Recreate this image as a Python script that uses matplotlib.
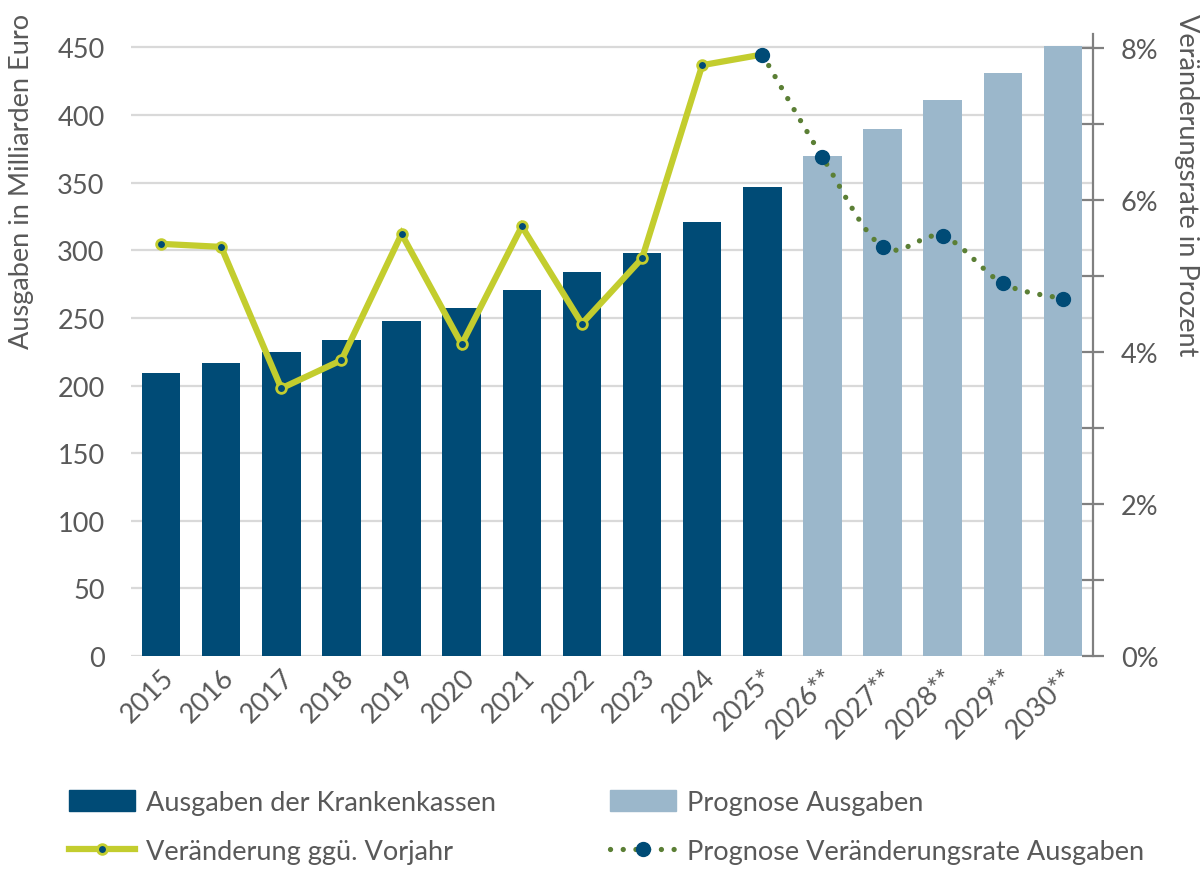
#!/usr/bin/env python3

import numpy as np
import matplotlib
matplotlib.use('Agg')
import matplotlib.pyplot as plt
from matplotlib.lines import Line2D
from matplotlib.patches import Patch, PathPatch
from matplotlib.path import Path
from matplotlib.ticker import FixedLocator, FuncFormatter

plt.rcParams['font.family'] = ['Lato', 'DejaVu Sans']

# Data
years = ['2015', '2016', '2017', '2018', '2019', '2020', '2021', '2022',
         '2023', '2024', '2025*', '2026**', '2027**', '2028**', '2029**', '2030**']
spending_bn = [209, 217, 225, 234, 247.5, 257, 271, 284,
               298, 321, 346.5, 369.5, 390, 411, 431, 451]
n_actual = 11                       # 2015 .. 2025* are actual values
change_pct = [5.42, 5.38, 3.52, 3.89, 5.55, 4.10, 5.65, 4.37,
              5.23, 7.77, 7.91]     # 2015 .. 2025*
forecast_change_pct = [7.91, 6.56, 5.38, 5.52, 4.90, 4.70]   # 2025* .. 2030**

DARK_BLUE  = '#004b76'
LIGHT_BLUE = '#9bb7cb'
LIME       = '#c3cd2e'
OLIVE      = '#5b7f35'
GRID       = '#d9d9d9'
TEXT       = '#595959'
SPINE      = '#808080'
FS = 19.5


def smooth_path(xs, ys):
    # Bezier path through the points (Excel style smoothed line)
    pts = np.column_stack([xs, ys]).astype(float)
    verts = [pts[0]]
    codes = [Path.MOVETO]
    n = len(pts)
    for i in range(n - 1):
        p0 = pts[max(i - 1, 0)]
        p1 = pts[i]
        p2 = pts[i + 1]
        p3 = pts[min(i + 2, n - 1)]
        c1 = p1 + (p2 - p0) / 6.0
        c2 = p2 - (p3 - p1) / 6.0
        verts += [c1, c2, p2]
        codes += [Path.CURVE4] * 3
    return Path(verts, codes)


def main():
    fig = plt.figure(figsize=(12.03, 8.70), dpi=100)
    ax = fig.add_axes([0.1089, 0.2448, 0.7997, 0.7150])
    x = np.arange(len(years))

    colors = [DARK_BLUE] * n_actual + [LIGHT_BLUE] * (len(years) - n_actual)
    ax.bar(x, spending_bn, width=0.64, color=colors, zorder=2)

    ax.set_xlim(-0.5, len(years) - 0.5)
    ax.set_ylim(0, 460)
    ax.set_yticks(np.arange(0, 451, 50))
    ax.yaxis.grid(True, color=GRID, lw=1.6)
    ax.set_axisbelow(True)
    for side in ['left', 'right', 'top', 'bottom']:
        ax.spines[side].set_visible(False)
    ax.tick_params(axis='y', length=0, pad=19, labelsize=FS, labelcolor=TEXT)
    ax.tick_params(axis='x', length=0, pad=6, labelsize=FS, labelcolor=TEXT)
    ax.set_xticks(x)
    ax.set_xticklabels(years, rotation=45, ha='right', rotation_mode='anchor')

    fig.text(22 / 1203, 1 - 14 / 870, 'Ausgaben in Milliarden Euro', fontsize=FS,
             color=TEXT, rotation=90, ha='center', va='top')
    fig.text(1186 / 1203, 1 - 14 / 870, 'Veränderungsrate in Prozent', fontsize=FS,
             color=TEXT, rotation=270, ha='center', va='top')

    ax2 = ax.twinx()
    ax2.set_xlim(-0.5, len(years) - 0.5)
    ax2.set_ylim(0, 8.18)
    for side in ['left', 'top', 'bottom']:
        ax2.spines[side].set_visible(False)
    ax2.spines['right'].set_color(SPINE)
    ax2.spines['right'].set_linewidth(1.6)
    ax2.yaxis.set_major_locator(FixedLocator([0, 2, 4, 6, 8]))
    ax2.yaxis.set_minor_locator(FixedLocator([1, 3, 5, 7]))
    ax2.yaxis.set_major_formatter(FuncFormatter(lambda v, p: f'{v:.0f}%'))
    ax2.tick_params(axis='y', which='both', direction='inout', length=16, width=1.6,
                    color=SPINE, labelsize=FS, labelcolor=TEXT, pad=12)

    # Actual change rate
    ax2.plot(x[:n_actual], change_pct, color=LIME, lw=4.5, marker='o', ms=7,
             mfc=DARK_BLUE, mec=LIME, mew=2, solid_joinstyle='miter', zorder=3)

    # Forecast change rate: smoothed dotted line
    fx = x[n_actual - 1:]
    patch = PathPatch(smooth_path(fx, forecast_change_pct), fill=False,
                      edgecolor=OLIVE, lw=3.8, linestyle=(0, (0.01, 2.4)),
                      capstyle='round', zorder=4)
    ax2.add_patch(patch)
    ax2.plot(fx, forecast_change_pct, ls='none', marker='o', ms=10,
             mfc=DARK_BLUE, mec=DARK_BLUE, zorder=5)

    handles = [
        Patch(facecolor=DARK_BLUE, edgecolor=DARK_BLUE),
        Line2D([], [], color=LIME, lw=4.5, marker='o', ms=7,
               mfc=DARK_BLUE, mec=LIME, mew=2),
        Patch(facecolor=LIGHT_BLUE, edgecolor=LIGHT_BLUE),
        Line2D([], [], color=OLIVE, lw=3.8, ls=(0, (0.01, 2.4)),
               dash_capstyle='round', marker='o', ms=10,
               mfc=DARK_BLUE, mec=DARK_BLUE),
    ]
    labels = ['Ausgaben der Krankenkassen', 'Veränderung ggü. Vorjahr',
              'Prognose Ausgaben', 'Prognose Veränderungsrate Ausgaben']
    fig.legend(handles, labels, loc='upper left', ncol=2,
               bbox_to_anchor=(0.048, 0.103), frameon=False,
               fontsize=FS, labelcolor=TEXT, handlelength=2.45,
               handleheight=0.8, handletextpad=0.4, columnspacing=4.2,
               labelspacing=0.88, borderaxespad=0)

    fig.savefig('out.png', dpi=100)


if __name__ == "__main__":
    main()
